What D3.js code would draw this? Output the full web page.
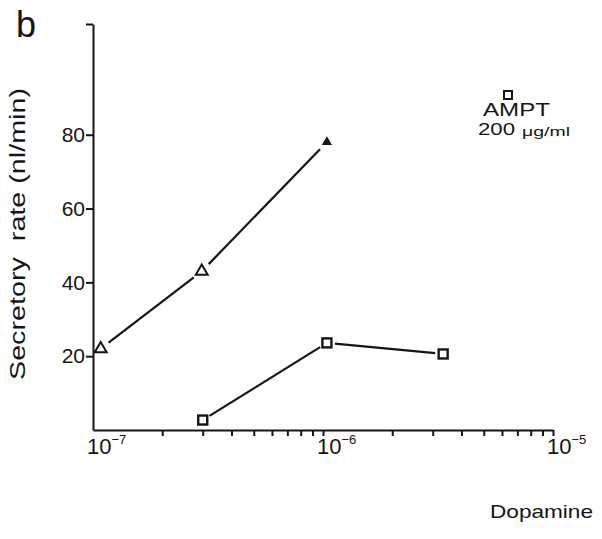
<!DOCTYPE html>
<html>
<head>
<meta charset="utf-8">
<script src="https://cdn.jsdelivr.net/npm/d3@7"></script>
<style>
  body { margin: 0; background: #fff; }
  text { font-family: "Liberation Sans", Arial, sans-serif; fill: #151515; }
  .axis path, .axis line { stroke: #151515; stroke-width: 2; }
</style>
</head>
<body>
<svg id="chart" width="602" height="539"></svg>
<script>
// values
var dose_control = [1.08e-7, 2.97e-7, 1.04e-6];
var rate_control = [22, 43, 78];
var dose_ampt = [3e-7, 1.04e-6, 3.33e-6];
var rate_ampt = [2.7, 23.6, 20.6];
var y_ticks = [20, 40, 60, 80, 110];
var x_decades = [1e-7, 1e-6, 1e-5];
var x_exponents = ["\u22127", "\u22126", "\u22125"];

var svg = d3.select("#chart");

var x = d3.scaleLog().domain([1e-7, 1e-5]).range([93, 553]),
    y = d3.scaleLinear().domain([0, 110]).range([430, 24]);

// minor ticks 2..9 in each decade plus the decades themselves
var x_ticks = [];
[1e-7, 1e-6].forEach(function (dec) {
    for (var k = 2; k <= 9; k++) x_ticks.push(k * dec);
});
x_ticks.push(1e-6, 1e-5);

var xAxis = d3.axisBottom(x)
    .tickValues(x_ticks)
    .tickSize(6)
    .tickSizeOuter(0)
    .tickFormat("");

var yAxis = d3.axisLeft(y)
    .tickValues(y_ticks)
    .tickSize(7)
    .tickSizeOuter(0)
    .tickPadding(1)
    .tickFormat(function (d) { return d === 110 ? "" : d; });

svg.append("g")
    .attr("class", "axis axis--x")
    .attr("transform", "translate(0," + y(0) + ")")
    .call(xAxis);

var gy = svg.append("g")
    .attr("class", "axis axis--y")
    .attr("transform", "translate(" + x(1e-7) + ",0)")
    .attr("font-size", 21)
    .attr("font-family", null)
    .call(yAxis);
gy.selectAll("text")
    .attr("font-size", 21)
    .style("font-size", "21px")
    .attr("fill", "#151515");

// decade labels 10^n
var xl = svg.append("g").selectAll("text")
    .data(x_decades)
    .enter().append("text")
    .attr("x", function (d) { return x(d) - 6; })
    .attr("y", 454)
    .style("font-size", "22px");
xl.append("tspan").text("10");
xl.append("tspan")
    .attr("dy", -10)
    .style("font-size", "13px")
    .text(function (d, i) { return x_exponents[i]; });

// lines with small gaps at the markers
function drawSegments(doses, rates, gap) {
    var pts = doses.map(function (d, i) { return [x(d), y(rates[i])]; });
    for (var i = 0; i < pts.length - 1; i++) {
        var a = pts[i], b = pts[i + 1];
        var dx = b[0] - a[0], dy = b[1] - a[1], len = Math.sqrt(dx * dx + dy * dy);
        var ux = dx / len, uy = dy / len;
        svg.append("line")
            .attr("x1", a[0] + ux * gap).attr("y1", a[1] + uy * gap)
            .attr("x2", b[0] - ux * gap).attr("y2", b[1] - uy * gap)
            .attr("stroke", "#151515")
            .attr("stroke-width", 2.2);
    }
}
drawSegments(dose_control, rate_control, 10);
drawSegments(dose_ampt, rate_ampt, 8);

// triangles
svg.append("g").selectAll("path")
    .data(dose_control)
    .enter().append("path")
    .attr("transform", function (d, i) { return "translate(" + x(d) + "," + y(rate_control[i]) + ")"; })
    .attr("d", function (d, i) { return d3.symbol(d3.symbolTriangle, i === 2 ? 20 : 62)(); })
    .attr("fill", function (d, i) { return i === 2 ? "#151515" : "#fff"; })
    .attr("stroke", "#151515")
    .attr("stroke-width", 2);

// squares
svg.append("g").selectAll("rect")
    .data(dose_ampt)
    .enter().append("rect")
    .attr("x", function (d) { return x(d) - 4.5; })
    .attr("y", function (d, i) { return y(rate_ampt[i]) - 4.5; })
    .attr("width", 9)
    .attr("height", 9)
    .attr("fill", "#fff")
    .attr("stroke", "#151515")
    .attr("stroke-width", 2.4);

// legend
svg.append("rect")
    .attr("x", 504).attr("y", 91).attr("width", 8).attr("height", 8)
    .attr("fill", "#fff").attr("stroke", "#151515").attr("stroke-width", 2);
svg.append("text")
    .attr("x", 483).attr("y", 116)
    .attr("textLength", 67).attr("lengthAdjust", "spacingAndGlyphs")
    .style("font-size", "18px")
    .text("AMPT");
svg.append("text")
    .attr("x", 478).attr("y", 135)
    .attr("textLength", 37).attr("lengthAdjust", "spacingAndGlyphs")
    .style("font-size", "16px")
    .text("200");
svg.append("text")
    .attr("x", 522).attr("y", 136)
    .attr("textLength", 48).attr("lengthAdjust", "spacingAndGlyphs")
    .style("font-size", "13px")
    .text("\u03bcg/ml");

// axis titles
svg.append("text")
    .attr("transform", "translate(25,234) rotate(-90)")
    .attr("text-anchor", "middle")
    .attr("textLength", 292).attr("lengthAdjust", "spacingAndGlyphs")
    .style("font-size", "22px")
    .text("Secretory\u00a0 rate (nl/min)");

svg.append("text")
    .attr("x", 490).attr("y", 518)
    .attr("textLength", 103).attr("lengthAdjust", "spacingAndGlyphs")
    .style("font-size", "19px")
    .text("Dopamine");

// panel letter
svg.append("text")
    .attr("x", 16).attr("y", 37)
    .style("font-size", "36px")
    .text("b");
</script>
</body>
</html>
